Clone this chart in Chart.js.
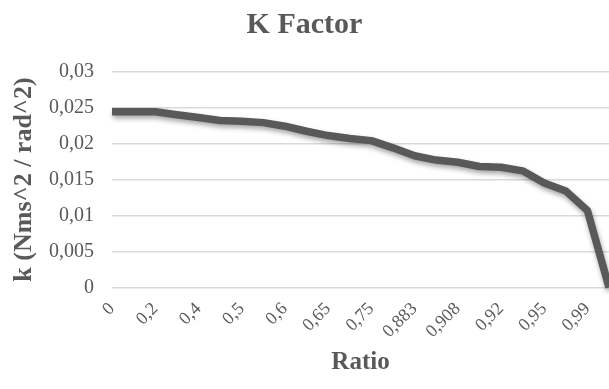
<!DOCTYPE html>
<html>
<head>
<meta charset="utf-8">
<title>K Factor</title>
<script src="https://cdn.jsdelivr.net/npm/chart.js@4.4.1/dist/chart.umd.min.js"></script>
<style>
  html, body { margin: 0; padding: 0; background: #ffffff; }
  #wrap { width: 609px; height: 389px; position: relative; }
</style>
</head>
<body>
<div id="wrap"><canvas id="kChart"></canvas></div>
<script>
// ratio categories (odd ones are not labelled on the axis)
const ratios = [
  "0", "0,1", "0,2", "0,3", "0,4", "0,45", "0,5", "0,55", "0,6", "0,625",
  "0,65", "0,7", "0,75", "0,8", "0,883", "0,9", "0,908", "0,91", "0,92", "0,93",
  "0,95", "0,97", "0,99", "1"
];

// k values
const kValues = [
  0.0244, 0.0244, 0.0244, 0.0240, 0.0236, 0.0232, 0.0231, 0.0229, 0.0224, 0.0217,
  0.0211, 0.0207, 0.0204, 0.0194, 0.0183, 0.0177, 0.0174, 0.0168, 0.0167, 0.0162,
  0.0145, 0.0134, 0.0107, 0
];

const yTicks = [0, 0.005, 0.01, 0.015, 0.02, 0.025, 0.03];

const GREY = "#595959";
const SERIF = "'Liberation Serif', 'Times New Roman', serif";

// soft drop shadow under the line, like the office chart
const lineShadow = {
  id: "lineShadow",
  beforeDatasetsDraw(chart) {
    const ctx = chart.ctx;
    ctx.save();
    ctx.shadowColor = "rgba(0,0,0,0.35)";
    ctx.shadowBlur = 5;
    ctx.shadowOffsetX = 1;
    ctx.shadowOffsetY = 3;
  },
  afterDatasetsDraw(chart) {
    chart.ctx.restore();
  }
};

new Chart(document.getElementById("kChart"), {
  type: "line",
  data: {
    labels: ratios,
    datasets: [{
      label: "K Factor",
      data: kValues,
      borderColor: GREY,
      borderWidth: 7.5,
      pointRadius: 0,
      tension: 0,
      fill: false,
      borderJoinStyle: "round",
      clip: 8
    }]
  },
  options: {
    responsive: true,
    maintainAspectRatio: false,
    animation: false,
    layout: { padding: 0 },
    plugins: {
      legend: { display: false },
      tooltip: { enabled: false },
      title: {
        display: true,
        text: "K Factor",
        color: GREY,
        font: { family: SERIF, size: 30, weight: "bold" },
        padding: { top: 7, bottom: 28.5 }
      }
    },
    scales: {
      x: {
        grid: { display: false, drawTicks: false },
        border: { display: false },
        afterFit: s => {
          s.height = 389 - 287.5;
          s.paddingLeft = 0;
          s.paddingRight = 0;
        },
        ticks: {
          autoSkip: false,
          minRotation: 45,
          maxRotation: 45,
          padding: 11,
          color: GREY,
          font: { family: SERIF, size: 18 },
          callback: function (value, index) {
            return index % 2 === 0 ? this.getLabelForValue(value) : "";
          }
        },
        title: {
          display: true,
          text: "Ratio",
          color: GREY,
          font: { family: SERIF, size: 25, weight: "bold" },
          padding: { top: 0, bottom: 11 }
        }
      },
      y: {
        min: 0,
        max: 0.03,
        afterFit: s => { s.width = 112; },
        afterBuildTicks: s => { s.ticks = yTicks.map(v => ({ value: v })); },
        grid: { color: "#d9d9d9", lineWidth: 1.5, drawTicks: false },
        border: { display: false },
        ticks: {
          padding: 18,
          color: GREY,
          font: { family: SERIF, size: 20 },
          callback: v => String(v).replace(".", ",")
        },
        title: {
          display: true,
          text: "k (Nms^2 / rad^2)",
          color: GREY,
          font: { family: SERIF, size: 26, weight: "bold" },
          padding: { top: 9, bottom: 0 }
        }
      }
    }
  },
  plugins: [lineShadow]
});
</script>
</body>
</html>
